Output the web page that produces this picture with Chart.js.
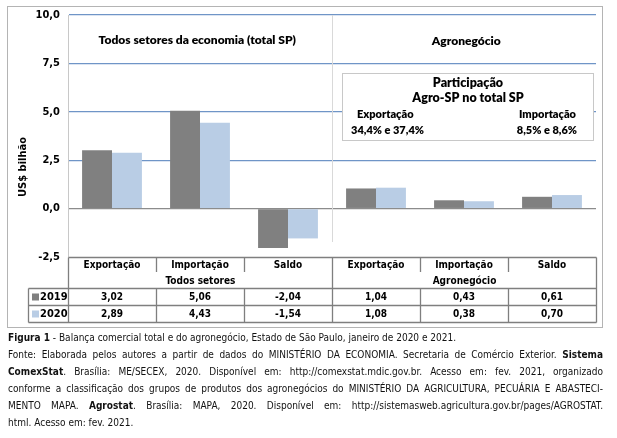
<!DOCTYPE html>
<html>
<head>
<meta charset="utf-8">
<script src="https://cdn.jsdelivr.net/npm/chart.js@4.4.1/dist/chart.umd.min.js"></script>
<style>
  html, body { margin: 0; padding: 0; background: #fff; }
  #wrap { position: relative; width: 617px; height: 438px; overflow: hidden; }
  #c { position: absolute; left: 0; top: 0; }
  #cap { position: absolute; left: 8px; top: 329px; width: 595px; font-family: "DejaVu Sans Condensed", "DejaVu Sans", sans-serif; font-size: 10px; color: #111; line-height: 17px; }
  #cap div { white-space: nowrap; }
  #cap .j { text-align: justify; text-align-last: justify; }
</style>
</head>
<body>
<div id="wrap">
<canvas id="c" width="617" height="330"></canvas>
<div id="cap">
  <div><b>Figura 1</b> - Balança comercial total e do agronegócio, Estado de São Paulo, janeiro de 2020 e 2021.</div>
  <div class="j">Fonte: Elaborada pelos autores a partir de dados do MINISTÉRIO DA ECONOMIA. Secretaria de Comércio Exterior. <b>Sistema</b></div>
  <div class="j"><b>ComexStat</b>. Brasília: ME/SECEX, 2020. Disponível em: http://comexstat.mdic.gov.br. Acesso em: fev. 2021, organizado</div>
  <div class="j">conforme a classificação dos grupos de produtos dos agronegócios do MINISTÉRIO DA AGRICULTURA, PECUÁRIA E ABASTECI-</div>
  <div class="j">MENTO MAPA. <b>Agrostat</b>. Brasília: MAPA, 2020. Disponível em: http://sistemasweb.agricultura.gov.br/pages/AGROSTAT.</div>
  <div>html. Acesso em: fev. 2021.</div>
</div>
</div>
<script>
// ---- data ----
const categories = ['Exportação', 'Importação', 'Saldo', 'Exportação', 'Importação', 'Saldo'];
const groups = ['Todos setores', 'Agronegócio'];
const groupTitles = ['Todos setores da economia (total SP)', 'Agronegócio'];
const seriesNames = ['2019', '2020'];
const values2019 = [3.02, 5.06, -2.04, 1.04, 0.43, 0.61];
const values2020 = [2.89, 4.43, -1.54, 1.08, 0.38, 0.70];
const yTicks = [-2.5, 0, 2.5, 5, 7.5, 10];
const boxTitle = ['Participação', 'Agro-SP no total SP'];
const boxLabels = ['Exportação', 'Importação'];
const boxValues = ['34,4% e 37,4%', '8,5% e 8,6%'];
const yTitle = 'US$ bilhão';

const colors = ['#808080', '#B9CDE5'];
const fmt = v => v.toFixed(2).replace('.', ',');

const TOP = 15, BOTTOM = 257, LEFT = 68, RIGHT = 596;
const condensed = '"DejaVu Sans Condensed", "DejaVu Sans", sans-serif';
const tableFont = 'bold 10px ' + condensed;
const titleFont = s => '800 ' + s + 'px Lato, "Open Sans", sans-serif';

const deco = {
  id: 'deco',
  beforeDatasetsDraw(chart) {
    const ctx = chart.ctx, x = chart.scales.x, a = chart.chartArea;
    const sep = (x.getPixelForValue(2) + x.getPixelForValue(3)) / 2;
    ctx.save();
    ctx.strokeStyle = '#d9d9d9';
    ctx.lineWidth = 1;
    ctx.beginPath(); ctx.moveTo(Math.round(sep) + 0.5, a.top); ctx.lineTo(Math.round(sep) + 0.5, 242); ctx.stroke();
    ctx.restore();
  },
  afterDraw(chart) {
    const ctx = chart.ctx, x = chart.scales.x, y = chart.scales.y, a = chart.chartArea;
    const sep = Math.round((x.getPixelForValue(2) + x.getPixelForValue(3)) / 2) + 0.5;
    ctx.save();
    // group titles
    ctx.fillStyle = '#000';
    ctx.textAlign = 'center'; ctx.textBaseline = 'middle';
    ctx.font = titleFont(12);
    ctx.fillText(groupTitles[0], (a.left + sep) / 2 - 3, 40);
    ctx.fillText(groupTitles[1], (sep + a.right) / 2 + 2, 41);

    // annotation box
    const bx = 342.5, by = 73.5, bw = 251, bh = 67;
    ctx.fillStyle = '#fff'; ctx.fillRect(bx, by, bw, bh);
    ctx.strokeStyle = '#c8c8c8'; ctx.lineWidth = 1; ctx.strokeRect(bx, by, bw, bh);
    ctx.fillStyle = '#000';
    ctx.font = titleFont(12.5);
    ctx.fillText(boxTitle[0], bx + bw / 2, 83);
    ctx.fillText(boxTitle[1], bx + bw / 2, 98);
    ctx.font = titleFont(11);
    ctx.textAlign = 'left';
    ctx.fillText(boxLabels[0], 357, 114);
    ctx.fillText(boxValues[0], 351, 130);
    ctx.textAlign = 'right';
    ctx.fillText(boxLabels[1], 576, 114);
    ctx.fillText(boxValues[1], 577, 130);

    // y title
    ctx.save();
    ctx.translate(23, 167);
    ctx.rotate(-Math.PI / 2);
    ctx.textAlign = 'center';
    ctx.font = 'bold 11px ' + condensed;
    ctx.fillText(yTitle, 0, 0);
    ctx.restore();

    // data table
    const n = categories.length;
    const cw = (a.right - a.left) / n;
    const edges = [];
    for (let i = 0; i <= n; i++) edges.push(Math.round(a.left + i * cw) + 0.5);
    const rowTop = 288.5, rowMid = 305.5, rowBot = 322.5, keyL = 28.5;
    const top = Math.round(a.bottom) + 0.5;
    ctx.strokeStyle = '#7f7f7f'; ctx.lineWidth = 1.3;
    ctx.beginPath();
    ctx.moveTo(edges[0], top); ctx.lineTo(edges[n], top);
    ctx.moveTo(keyL, rowTop); ctx.lineTo(edges[n], rowTop);
    ctx.moveTo(keyL, rowMid); ctx.lineTo(edges[n], rowMid);
    ctx.moveTo(keyL, rowBot); ctx.lineTo(edges[n], rowBot);
    ctx.moveTo(keyL, rowTop); ctx.lineTo(keyL, rowBot);
    for (let i = 0; i <= n; i++) {
      const full = (i === 0 || i === n || i === 3);
      ctx.moveTo(edges[i], top);
      ctx.lineTo(edges[i], full ? rowBot : 272);
      if (!full) { ctx.moveTo(edges[i], rowTop); ctx.lineTo(edges[i], rowBot); }
    }
    ctx.stroke();

    ctx.fillStyle = '#000';
    ctx.font = tableFont;
    ctx.textAlign = 'center'; ctx.textBaseline = 'middle';
    for (let i = 0; i < n; i++) {
      const cx = x.getPixelForValue(i);
      ctx.fillText(categories[i], cx, 265.5);
      ctx.fillText(fmt(values2019[i]), cx, 297);
      ctx.fillText(fmt(values2020[i]), cx, 314);
    }
    ctx.fillText(groups[0], (edges[0] + edges[3]) / 2, 281);
    ctx.fillText(groups[1], (edges[3] + edges[6]) / 2, 281);
    // legend keys
    const rows = [297, 314];
    ctx.textAlign = 'left';
    for (let s = 0; s < 2; s++) {
      ctx.fillStyle = colors[s];
      ctx.fillRect(32, rows[s] - 3.5, 7, 7);
      ctx.fillStyle = '#000';
      ctx.font = 'bold 11px ' + condensed;
      ctx.fillText(seriesNames[s], 40, rows[s]);
    }

    // outer frame
    ctx.strokeStyle = '#b4b4b4'; ctx.lineWidth = 1;
    ctx.strokeRect(7.5, 6.5, 595, 321);
    ctx.restore();
  }
};

new Chart(document.getElementById('c'), {
  type: 'bar',
  data: {
    labels: categories,
    datasets: [
      { label: seriesNames[0], data: values2019, backgroundColor: colors[0] },
      { label: seriesNames[1], data: values2020, backgroundColor: colors[1] }
    ]
  },
  options: {
    responsive: false,
    animation: false,
    devicePixelRatio: 1,
    layout: { padding: { left: 0, top: TOP, right: 617 - RIGHT, bottom: 330 - BOTTOM } },
    plugins: { legend: { display: false }, tooltip: { enabled: false } },
    datasets: { bar: { categoryPercentage: 0.68, barPercentage: 1.0 } },
    scales: {
      x: { display: false },
      y: {
        min: -2.5, max: 10,
        afterFit(s) { s.width = LEFT; },
        afterBuildTicks(s) { s.ticks = yTicks.map(v => ({ value: v })); },
        ticks: {
          padding: 8,
          color: '#000',
          font: { family: condensed, weight: 'bold', size: 11 },
          callback: v => v.toFixed(1).replace('.', ',')
        },
        grid: {
          drawTicks: false,
          lineWidth: 1.3,
          color: c => c.tick.value === 0 ? '#8c8c8c' : (c.tick.value === -2.5 ? 'rgba(0,0,0,0)' : '#6f95c7')
        },
        border: { display: true, color: '#c8c8c8', width: 1 }
      }
    }
  },
  plugins: [deco]
});
</script>
</body>
</html>
